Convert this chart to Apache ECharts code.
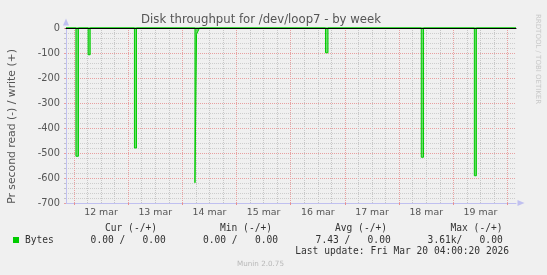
<!DOCTYPE html>
<html>
<head>
<meta charset="utf-8">
<script src="https://cdn.jsdelivr.net/npm/echarts@6/dist/echarts.min.js"></script>
<style>html,body{margin:0;padding:0;background:#f0f0f0}#c{width:547px;height:275px}</style>
</head>
<body>
<div id="c"></div>
<script>
// time in hours relative to 12 mar 00:00
const xMin = -3.5;
const xMax = 195.75;
const dayMidnights = [0, 24, 48, 72, 96, 120, 144, 168, 192];
const dayNoons = [12, 36, 60, 84, 108, 132, 156, 180];
const dayLabels = ['12 mar', '13 mar', '14 mar', '15 mar', '16 mar', '17 mar', '18 mar', '19 mar'];
const yTicks = [0, -100, -200, -300, -400, -500, -600, -700];

// read (negative) series
const readTimes = [xMin, 0.9, 0.9, 2.0, 2.0, 6.3, 6.3, 7.2, 7.2, 26.8, 26.8, 27.7, 27.7,
  53.6, 53.6, 54.3, 54.3, 55.6, 57.3, 57.8, 58.3, 74.0, 74.4, 74.8,
  111.4, 111.4, 112.5, 112.5, 153.8, 153.8, 154.8, 154.8, 177.3, 177.3, 178.2, 178.2, xMax];
const readValues = [0, 0, -513, -513, 0, 0, -107, -107, 0, 0, -480, -480, 0,
  0, -619, -619, -25, 0, 0, -5, 0, 0, -4, 0,
  0, -99, -99, 0, 0, -517, -517, 0, 0, -591, -591, 0, 0];
// write (positive) series
const writeTimes = [xMin, xMax];
const writeValues = [0, 0];

const statHeaders = ['Cur (-/+)', 'Min (-/+)', 'Avg (-/+)', 'Max (-/+)'];
const statValues = ['0.00 /   0.00', '0.00 /   0.00', '7.43 /   0.00', '3.61k/   0.00'];
const seriesName = 'Bytes';
const titleText = 'Disk throughput for /dev/loop7 - by week';
const yName = 'Pr second read (-) / write (+)';
const lastUpdate = 'Last update: Fri Mar 20 04:00:20 2026';
const credit = 'RRDTOOL / TOBI OETIKER';
const version = 'Munin 2.0.75';

const sixHours = [];
for (let h = 0; h <= 192; h += 6) { if (h % 24 !== 0 && h > xMin && h < xMax) sixHours.push(h); }

const chart = echarts.init(document.getElementById('c'), null, {renderer: 'canvas'});
const green = '#00cc00';
const mono = 'DejaVu Sans Mono';
const sans = 'DejaVu Sans';

const headerRight = [157, 272, 387, 502.5];
const valueRight = [165.7, 278, 390.7, 502.7];
const graphics = [];
statHeaders.forEach((t, i) => graphics.push({type: 'text', x: headerRight[i], y: 228.5,
  style: {text: t, font: '9.6px ' + mono, fill: '#333', align: 'right', verticalAlign: 'middle'}}));
statValues.forEach((t, i) => graphics.push({type: 'text', x: valueRight[i], y: 240,
  style: {text: t, font: '9.6px ' + mono, fill: '#333', align: 'right', verticalAlign: 'middle'}}));
graphics.push({type: 'rect', shape: {x: 13, y: 237, width: 6, height: 6}, style: {fill: green}});
graphics.push({type: 'text', x: 25, y: 240, style: {text: seriesName, font: '9.6px ' + mono, fill: '#333', verticalAlign: 'middle'}});
graphics.push({type: 'text', x: 509, y: 251.3, style: {text: lastUpdate, font: '9.6px ' + mono, fill: '#333', align: 'right', verticalAlign: 'middle'}});
graphics.push({type: 'text', x: 260.5, y: 264.3, style: {text: version, font: '7.2px ' + sans, fill: '#b8b8b8', align: 'center', verticalAlign: 'middle'}});
graphics.push({type: 'text', x: 261, y: 19.5, style: {text: titleText, font: '11.7px ' + sans, fill: '#555', align: 'center', verticalAlign: 'middle'}});
graphics.push({type: 'text', x: 11.7, y: 126.5, rotation: Math.PI / 2,
  style: {text: yName, font: '10.8px ' + sans, fill: '#555', align: 'center', verticalAlign: 'middle'}});
graphics.push({type: 'text', x: 538, y: 14, rotation: -Math.PI / 2,
  style: {text: credit, font: '7px ' + sans, fill: '#c8c8c8', align: 'left', verticalAlign: 'middle'}});

const baseX = {type: 'value', min: xMin, max: xMax, gridIndex: 0};
const option = {
  backgroundColor: '#f0f0f0',
  animation: false,
  grid: {left: 66, right: 31, top: 28, bottom: 72, containLabel: false},
  xAxis: [
    Object.assign({}, baseX, {
      position: 'bottom',
      axisLine: {show: true, onZero: false, lineStyle: {color: '#c0c0f0', width: 1}, symbol: ['none', 'triangle'], symbolSize: [6, 7], symbolOffset: [0, 5]},
      axisTick: {show: false, customValues: sixHours},
      splitLine: {show: true, lineStyle: {color: '#c6c6c6', type: [1, 1], width: 1}},
      axisLabel: {show: true, customValues: dayNoons, margin: 5,
        formatter: v => dayLabels[dayNoons.indexOf(v)] || '',
        color: '#555', fontFamily: sans, fontSize: 9.4}
    }),
    Object.assign({}, baseX, {
      position: 'bottom',
      axisLine: {show: false, onZero: false},
      axisTick: {show: true, customValues: dayMidnights, length: 2, lineStyle: {color: '#e89090'}},
      splitLine: {show: true, lineStyle: {color: '#e8a0a0', type: [1, 1], width: 1}},
      axisLabel: {show: false}
    }),
    Object.assign({}, baseX, {
      position: 'top', z: 10,
      axisLine: {show: true, onZero: false, lineStyle: {color: '#000', width: 1}},
      axisTick: {show: false}, splitLine: {show: false}, axisLabel: {show: false}
    })
  ],
  yAxis: {
    type: 'value', min: -700, max: 0, interval: 100,
    axisLine: {show: true, onZero: false, lineStyle: {color: '#c0c0f0', width: 1}, symbol: ['none', 'triangle'], symbolSize: [6, 7], symbolOffset: [0, 6]},
    axisTick: {show: true, length: 2, lineStyle: {color: '#e8a0a0'}},
    minorTick: {show: true, splitNumber: 5, length: 2, lineStyle: {color: '#c4c4c4'}},
    splitLine: {show: true, lineStyle: {color: '#e8a0a0', type: [1, 1], width: 1}},
    minorSplitLine: {show: true, lineStyle: {color: '#cdcdcd', type: [1, 1], width: 1}},
    axisLabel: {color: '#555', fontFamily: sans, fontSize: 9.8, margin: 6,
      customValues: yTicks}
  },
  series: [
    {
      name: seriesName, type: 'line', xAxisIndex: 0, symbol: 'none', clip: false,
      data: readTimes.map((t, i) => [t, readValues[i]]),
      lineStyle: {color: green, width: 1},
      areaStyle: {color: green, opacity: 0.55, origin: 'end'},
      z: 3
    },
    {
      name: seriesName + ' write', type: 'line', xAxisIndex: 0, symbol: 'none', clip: false,
      data: writeTimes.map((t, i) => [t, writeValues[i]]),
      lineStyle: {color: green, width: 1}, z: 3
    }
  ],
  graphic: graphics
};
chart.setOption(option);
</script>
</body>
</html>
